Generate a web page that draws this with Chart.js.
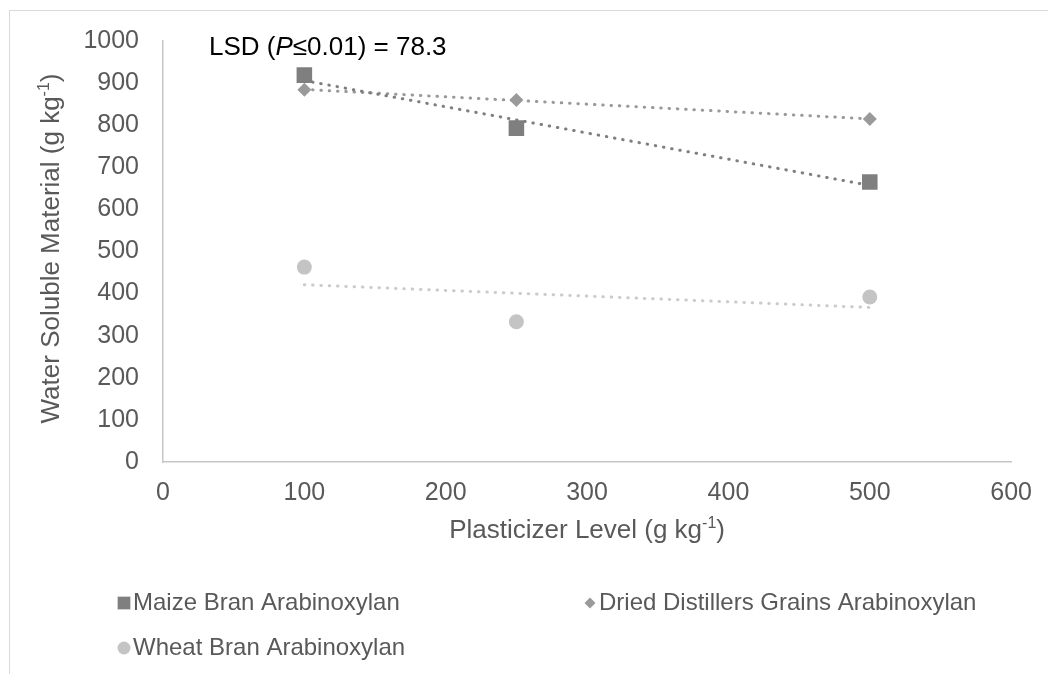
<!DOCTYPE html>
<html>
<head>
<meta charset="utf-8">
<script src="https://cdn.jsdelivr.net/npm/chart.js@4.4.0/dist/chart.umd.min.js"></script>
<style>
    html, body { margin: 0; padding: 0; background: #fff; }
    #marco { position: relative; width: 1048px; height: 674px; overflow: hidden; }
    #borde { position: absolute; left: 9px; top: 10px; width: 1200px; height: 800px;
             border-left: 1px solid #d9d9d9; border-top: 1px solid #d9d9d9; }
    #grafica { position: absolute; left: 0; top: 0; }
</style>
</head>
<body>
<div id="marco">
    <div id="borde"></div>
    <canvas id="grafica" width="1048" height="674"></canvas>
</div>
<script>
// datos
var plastificante = [100, 250, 500];
var maiz = [919, 793, 665];
var granos = [884, 860, 815];
var trigo = [463, 333, 392];

// extremos de las lineas de tendencia
var tendenciaX = [100, 500];
var maizTendencia = [906, 657];
var granosTendencia = [885, 815];
var trigoTendencia = [421, 367];

var nombres = ['Maize Bran Arabinoxylan', 'Dried Distillers Grains Arabinoxylan', 'Wheat Bran Arabinoxylan'];
var ejeX = [0, 600, 100];
var ejeY = [0, 1000, 100];

var colores = ['#7f7f7f', '#9a9a9a', '#c4c4c4'];
var coloresTendencia = ['#7f7f7f', '#999999', '#cbcbcb'];
var formas = ['rect', 'rectRot', 'circle'];
var radios = [11, 7, 7.5];

var fuente = '"Liberation Sans", Arial, sans-serif';

function puntos(xs, ys) {
    var res = [];
    for (var i = 0; i < xs.length; i++) {
        res.push({ x: xs[i], y: ys[i] });
    }
    return res;
}

function serie(i, valores) {
    return {
        type: 'scatter',
        label: nombres[i],
        data: puntos(plastificante, valores),
        pointStyle: formas[i],
        pointRadius: radios[i],
        pointHoverRadius: radios[i],
        backgroundColor: colores[i],
        borderColor: colores[i],
        borderWidth: 0,
        order: 1
    };
}

function tendencia(i, valores) {
    return {
        type: 'line',
        label: nombres[i] + ' tendencia',
        data: puntos(tendenciaX, valores),
        borderColor: coloresTendencia[i],
        borderWidth: 3,
        borderDash: [0.5, 7.8],
        borderCapStyle: 'round',
        pointRadius: 0,
        fill: false,
        order: 0
    };
}

function textoConExponente(ctx, antes, exp, despues, cx, cy, tam) {
    ctx.font = tam + 'px ' + fuente;
    var w1 = ctx.measureText(antes).width;
    var w3 = ctx.measureText(despues).width;
    ctx.font = Math.round(tam * 0.62) + 'px ' + fuente;
    var w2 = ctx.measureText(exp).width;
    var x = cx - (w1 + w2 + w3) / 2;
    ctx.textAlign = 'left';
    ctx.textBaseline = 'middle';
    ctx.font = tam + 'px ' + fuente;
    ctx.fillText(antes, x, cy);
    ctx.font = Math.round(tam * 0.62) + 'px ' + fuente;
    ctx.fillText(exp, x + w1, cy - tam * 0.3);
    ctx.font = tam + 'px ' + fuente;
    ctx.fillText(despues, x + w1 + w2, cy);
}

var textos = {
    id: 'textos',
    afterDraw: function (chart) {
        var ctx = chart.ctx;
        var area = chart.chartArea;
        ctx.save();
        ctx.fillStyle = '#595959';

        // titulo eje x
        textoConExponente(ctx, 'Plasticizer Level (g kg', '-1', ')', (area.left + area.right) / 2, 531, 26);

        // titulo eje y
        ctx.save();
        ctx.translate(52, (area.top + area.bottom) / 2 - 3);
        ctx.rotate(-Math.PI / 2);
        textoConExponente(ctx, 'Water Soluble Material (g kg', '-1', ')', 0, 0, 26);
        ctx.restore();

        // LSD
        ctx.fillStyle = '#000000';
        ctx.textAlign = 'left';
        ctx.textBaseline = 'middle';
        var x = 209, y = 48;
        ctx.font = '26px ' + fuente;
        ctx.fillText('LSD (', x, y);
        x += ctx.measureText('LSD (').width;
        ctx.font = 'italic 26px ' + fuente;
        ctx.fillText('P', x, y);
        x += ctx.measureText('P').width;
        ctx.font = '26px ' + fuente;
        ctx.fillText('\u22640.01) = 78.3', x, y);

        // leyenda
        var pos = [[124, 603], [590, 603], [124, 648]];
        var tamMarca = [9, 5.5, 6.5];
        ctx.font = '24px ' + fuente;
        for (var i = 0; i < nombres.length; i++) {
            ctx.save();
            ctx.fillStyle = colores[i];
            ctx.strokeStyle = colores[i];
            Chart.helpers.drawPoint(ctx, { pointStyle: formas[i], radius: tamMarca[i], borderWidth: 0 }, pos[i][0], pos[i][1]);
            ctx.restore();
            ctx.fillStyle = '#595959';
            ctx.fillText(nombres[i], pos[i][0] + 9, pos[i][1]);
        }
        ctx.restore();
    }
};

function sinComas(valor) {
    return String(valor);
}

const ctx = document.getElementById('grafica').getContext('2d');
const grafica = new Chart(ctx, {
    data: {
        datasets: [
            serie(0, maiz),
            serie(1, granos),
            serie(2, trigo),
            tendencia(0, maizTendencia),
            tendencia(1, granosTendencia),
            tendencia(2, trigoTendencia)
        ]
    },
    options: {
        responsive: false,
        animation: false,
        devicePixelRatio: 1,
        layout: {
            padding: { top: 41, right: 36, bottom: 0, left: 0 }
        },
        plugins: {
            legend: { display: false },
            tooltip: { enabled: false }
        },
        scales: {
            x: {
                type: 'linear',
                min: ejeX[0],
                max: ejeX[1],
                ticks: {
                    stepSize: ejeX[2],
                    color: '#595959',
                    font: { family: fuente, size: 25 },
                    padding: 16,
                    maxRotation: 0,
                    callback: sinComas
                },
                grid: { display: true, drawOnChartArea: false, drawTicks: false },
                border: { display: true, color: '#c6c6c6', width: 1.5 },
                afterFit: function (s) { s.height = 674 - 462; }
            },
            y: {
                type: 'linear',
                min: ejeY[0],
                max: ejeY[1],
                ticks: {
                    stepSize: ejeY[2],
                    color: '#595959',
                    font: { family: fuente, size: 25 },
                    padding: 24,
                    callback: sinComas
                },
                grid: { display: true, drawOnChartArea: false, drawTicks: false },
                border: { display: true, color: '#c6c6c6', width: 1.5 },
                afterFit: function (s) { s.width = 163; }
            }
        }
    },
    plugins: [textos]
});
</script>
</body>
</html>
